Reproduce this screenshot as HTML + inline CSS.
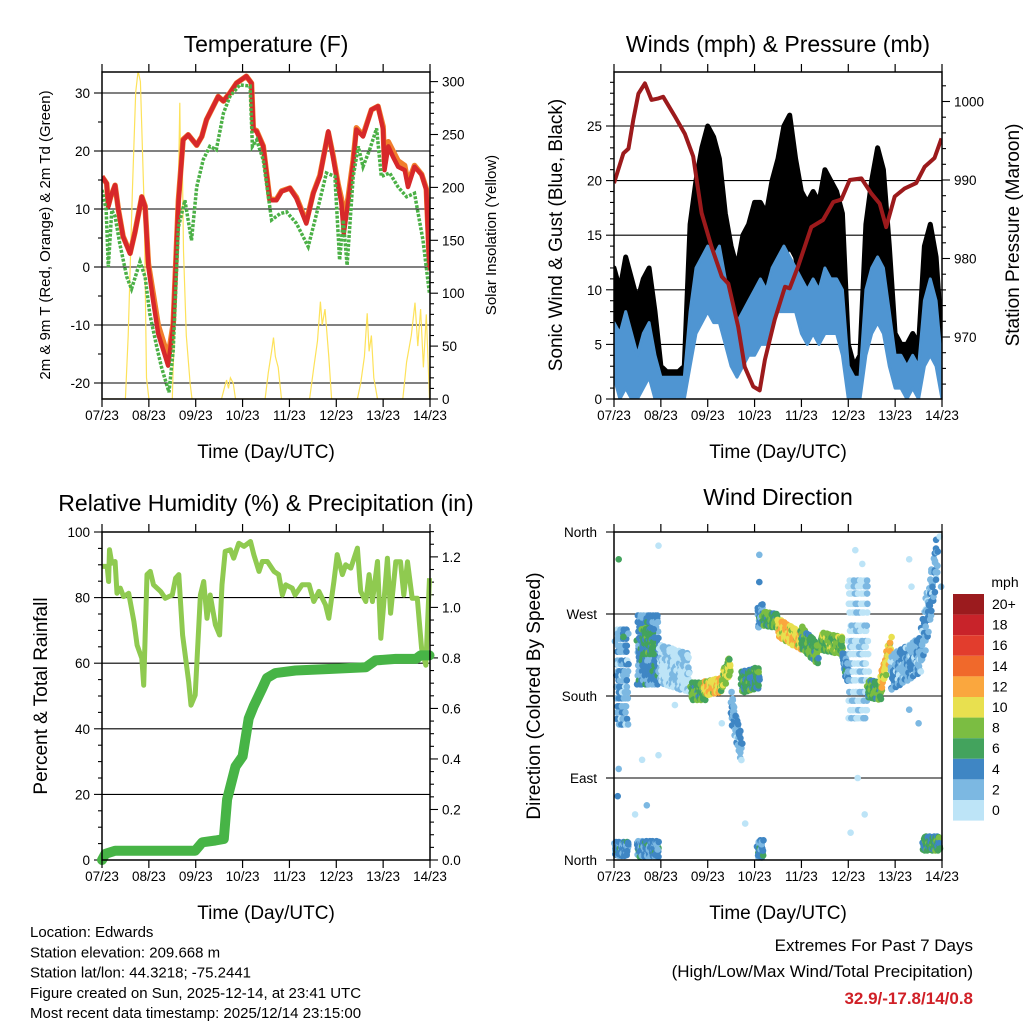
<!DOCTYPE html>
<html><head><meta charset="utf-8"><style>
html,body{margin:0;padding:0;background:#fff;}
svg{display:block;font-family:"Liberation Sans",sans-serif;}
</style></head><body>
<svg id="chart" width="1024" height="1024" viewBox="0 0 1024 1024" xmlns="http://www.w3.org/2000/svg"></svg>
<script>
// ---------- DATA ----------
const dayLabels = ["07/23","08/23","09/23","10/23","11/23","12/23","13/23","14/23"];
const tempT = [0,.10,.135,.185,.28,.35,.45,.60,.70,.85,.92,.99,1.09,1.20,1.41,1.52,1.63,1.73,1.84,2.02,2.13,2.23,2.48,2.59,2.73,2.87,3.08,3.19,3.23,3.30,3.44,3.58,3.72,3.83,4.01,4.15,4.36,4.51,4.65,4.83,4.93,5.04,5.11,5.16,5.25,5.36,5.43,5.57,5.75,5.89,6.00,6.03,6.11,6.21,6.32,6.46,6.53,6.67,6.82,6.92,6.99];
const temp2m = [15.6,14.4,10.4,12.1,14.1,9.8,5.2,2.3,5.8,12.1,10.4,0,-5.8,-11.5,-17,-10.4,11,21.9,22.8,21,22.5,25.4,29.4,28.6,30,31.7,32.9,31.7,23.7,23.4,20.8,11.5,11.5,13,13.6,11.8,7.5,12.7,15.6,23.4,19,13.8,11,5.8,11,17.9,23.7,22.5,27.1,27.7,23.7,16.7,20.8,19,17.3,16.7,13.8,17.3,15.9,13.3,-0.6];
const temp9m = [15.6,14.4,10.6,12.1,14.1,9.9,5.3,2.4,5.9,12.1,10.5,0.6,-4.5,-10,-15.5,-9.8,11.5,22,22.8,21,22.5,25.4,29.4,28.6,30,31.7,32.9,31.7,23.8,23.5,20.9,11.7,11.6,13.1,13.6,12,7.8,12.8,15.8,23.2,19.3,14.2,11.8,8.5,11.8,18.5,24,22.7,27.1,27.7,24.2,18,21.6,20,18.3,17.5,14.5,17.5,16,13.5,0];
const dewT = [0,.09,.135,.21,.28,.38,.53,.63,.81,.92,1.02,1.17,1.27,1.43,1.52,1.63,1.77,1.91,2.02,2.16,2.30,2.44,2.59,2.73,2.94,3.16,3.21,3.30,3.44,3.62,3.80,3.94,4.15,4.40,4.58,4.79,4.97,5.07,5.15,5.23,5.36,5.47,5.57,5.71,5.86,5.96,6.14,6.32,6.50,6.67,6.85,6.99];
const dewPt = [13.3,9.8,0,9.8,8.7,4.0,-1.7,-3.8,0.9,-1.7,-8.1,-13.8,-17.3,-21.6,-14.4,6.9,11.5,4.6,13.8,18.5,20.8,20.2,26.5,29.4,31.4,31.2,20.8,21.9,18.5,8.1,9.2,9.5,7.5,3.5,9.2,16.2,15.6,1.2,8.1,0.3,15.6,20.8,17.3,20.2,23.9,15.6,16.2,13.8,12.1,12.7,4.6,-4.6];
const solarT = [0,.5,.56,.65,.72,.77,.82,.9,.95,1.0,1.5,1.52,1.6,1.66,1.68,1.71,1.74,1.8,1.88,1.92,2.55,2.62,2.66,2.7,2.74,2.8,2.85,3.48,3.55,3.62,3.66,3.7,3.76,3.83,4.43,4.52,4.6,4.66,4.7,4.76,4.84,4.9,5.45,5.52,5.6,5.66,5.7,5.75,5.8,5.88,6.42,6.5,6.6,6.68,6.74,6.8,6.86,6.92,6.99];
const solarW = [0,0,60,200,290,310,300,180,20,0,0,30,120,280,210,240,140,60,15,0,0,12,18,10,20,15,0,0,25,45,58,40,30,0,0,30,55,92,70,85,40,0,0,15,40,81,45,60,20,0,0,35,60,91,50,85,30,80,0];
const windT = [0,.125,.25,.375,.5,.625,.75,.875,1,1.125,1.25,1.375,1.5,1.625,1.75,1.875,2,2.125,2.25,2.375,2.5,2.625,2.75,2.875,3,3.125,3.25,3.375,3.5,3.625,3.75,3.875,4,4.125,4.25,4.375,4.5,4.625,4.75,4.875,5,5.125,5.25,5.375,5.5,5.625,5.75,5.875,6,6.125,6.25,6.375,6.5,6.625,6.75,6.875,7];
const blueLo = [2,0,1,0,0,1,2,0,0,0,0,0,0,3,6,7,8,7,7,5,3,2,3,4,4,5,5,7,8,8,8,8,6,5,6,5,6,6,6,4,0,0,0,4,6,7,6,3,1,1,0,1,0,3,4,3,0];
const blueHi = [7,6,8,6,4,6,7,4,2,2,2,2,2,8,12,13,14,13,14,11,9,7,8,9,10,11,10,12,13,14,13,12,11,10,11,10,12,11,11,10,3,2,2,10,12,13,12,8,4,4,3,4,3,9,11,9,3];
const gustLo = [4,3,5,3,2,4,5,2,1.5,1.5,1.5,1.5,1.5,6,10,12,13,12,11,8,6,4,6,7,8,9,9,11,12,13,14,13,10,9,9,8,10,9,9,7,1,1,1,7,10,12,10,6,3,3,2,3,2,6,7,5,1];
const gustHi = [12,10,13,11,9,11,12,8,3,2.5,2.5,2.5,3,16,20,23,25,24,22,17,14,12,15,16,18,18,17,20,22,25,26,22,19,18,19,18,21,20,19,17,5,3,4,16,20,23,21,14,6,5,5,6,5,14,16,13,5];
const presT = [0,.09,.2,.31,.41,.52,.66,.8,.95,1.05,1.3,1.51,1.69,1.87,2.08,2.30,2.44,2.65,2.79,2.97,3.11,3.22,3.43,3.65,3.75,3.93,4.21,4.46,4.68,4.85,5.03,5.28,5.49,5.67,5.81,5.99,6.2,6.45,6.63,6.84,6.99];
const presMb = [989.6,991.3,993.4,994,997.6,1001,1002.3,1000.2,1000.4,1000.6,998.1,995.9,993,985.8,981.5,977.7,976.8,971.3,966.2,963.7,963.2,967.1,972.2,976.4,976.2,979,984,984.9,987.2,987.5,990,990.2,988.3,987,984,987.9,988.9,989.6,991.7,992.8,995.3];
const rhT = [0,.11,.14,.16,.21,.28,.32,.39,.46,.57,.68,.75,.85,.89,.96,1.03,1.1,1.25,1.35,1.5,1.57,1.64,1.72,1.85,1.9,1.99,2.1,2.17,2.24,2.31,2.42,2.51,2.56,2.63,2.74,2.81,2.92,3.03,3.17,3.24,3.35,3.42,3.53,3.67,3.77,3.85,3.92,4.06,4.12,4.27,4.42,4.52,4.63,4.77,4.84,4.95,5.02,5.13,5.2,5.31,5.45,5.52,5.63,5.7,5.77,5.88,5.95,6.0,6.09,6.16,6.27,6.37,6.44,6.52,6.62,6.73,6.82,6.91,6.99];
const rhPct = [89.5,89.5,84.9,94.6,90.5,91,81.3,82.9,80.3,81.3,72.7,65.5,61.5,53.3,87,88,83.9,81.9,79.8,80.8,85.9,87,68.6,54.3,47.2,50.3,80.8,84.9,73.7,80.8,71.7,68.6,83.9,94.1,94.6,92,96.6,95.6,97.1,93.1,88,91,91,88,87,80.8,83.9,82.9,80.8,83.9,83.9,78.8,81.9,77.8,73.7,84.9,93.1,87,90,89,95.1,81.9,78.8,87,78.8,91,67.6,75.7,92,75.2,90.9,90.9,80.8,90.9,79.8,79.8,64.5,59.4,85.9];
const prT = [0,.07,.28,1.99,2.14,2.42,2.6,2.67,2.85,3.0,3.13,3.24,3.42,3.52,3.7,4.13,4.84,5.63,5.84,6.27,6.7,6.8,6.99];
const prIn = [0,.024,.037,.037,.07,.077,.083,.24,.37,.41,.56,.61,.68,.72,.74,.75,.756,.763,.79,.796,.796,.81,.81];
const dirT0 = [.05,.02,.5,.6,.5,.97,1.65,1.93,2.3,2.5,2.72,3.07,3.07,3.18,3.5,4.0,4.42,4.88,5.0,5.42,5.7,5.91,6.55,6.6];
const dirT1 = [.3,.3,.95,.85,.95,1.6,1.93,2.3,2.48,2.72,3.1,3.18,3.18,3.5,4.0,4.35,4.88,5.0,5.42,5.7,5.91,6.55,6.9,6.95];
const dirA = [200,12,230,240,12,215,185,188,195,170,195,265,12,265,255,245,240,220,230,188,195,205,230,18];
const dirB = [200,12,230,240,12,205,185,192,215,120,200,270,12,262,240,225,235,205,230,185,235,225,330,18];
const dirSpread = [55,8,40,15,9,22,10,8,10,15,12,12,10,8,10,12,10,10,80,10,10,20,25,8];
const dirSpd = [3,4,4,6,4,1,7,11,9,3,6,4,4,7,11,7,8,4,1,7,11,3,3,6];
const outT = [.1,.95,1.6,2.8,3.1,6.35,6.95,.95,5.2,5.3,6.3,.1,.2,.02,3.1,5.35,6.98,.6,1.3,2.3,.08,.45,5.15,5.05,6.3,6.5,.7,2.9];
const outDeg = [330,345,205,40,335,300,355,115,90,325,330,100,245,240,305,50,300,110,170,150,70,50,340,30,165,150,60,200];
const outSpd = [6,1,1,1,3,1,1,1,1,1,1,2,6,3,4,1,2,1,1,1,4,1,1,1,3,3,2,4];
const mphLabels = ["20+","18","16","14","12","10","8","6","4","2","0"];
const mphColors = ["#9b1b1e","#c8232a","#e23d2d","#f0692b","#faa73e","#e8e04f","#7bbd42","#43a35d","#3f86c4","#7cb8e2","#bde4f7"];

// ---------- HELPERS ----------
const NS = "http://www.w3.org/2000/svg";
const svg = document.getElementById('chart');
function mk(tag, attrs, parent){
  const e = document.createElementNS(NS, tag);
  for (const k in attrs) e.setAttribute(k, attrs[k]);
  (parent || svg).appendChild(e);
  return e;
}
function txt(x, y, s, size, anchor, parent, extra){
  const e = mk('text', Object.assign({x:x, y:y, 'font-size':size, 'text-anchor':anchor||'middle', fill:'#000'}, extra||{}), parent);
  e.textContent = s;
  return e;
}
function line(x1,y1,x2,y2,w,col,parent){ return mk('line',{x1:x1,y1:y1,x2:x2,y2:y2,stroke:col||'#000','stroke-width':w||1},parent); }
function makePanel(name, x0, x1, y0, y1){
  const g = mk('g', {});
  
  
  return {g:g, x0:x0, x1:x1, y0:y0, y1:y1, xs: t => x0 + t/7*(x1-x0)};
}
function xAxis(p){
  const ax = mk('g', {}, p.g);
  
  
  dayLabels.forEach((lab, i) => {
    const x = p.xs(i);
    line(x, p.y1, x, p.y1+8, 1.2, '#000', ax);
    line(x, p.y0, x, p.y0-8, 1.2, '#000', ax);
    const t = txt(x, p.y1+21, lab, 13.5, 'middle', ax);
    
    
  });
  const tl = txt((p.x0+p.x1)/2, p.y1+59, 'Time (Day/UTC)', 19, 'middle', ax);
  
  
}
function yAxis(p, side, ys, vmin, vmax, major, minor, fmt, grid){
  const ax = mk('g', {}, p.g);
  
  
  const xe = side === 'left' ? p.x0 : p.x1;
  const dir = side === 'left' ? -1 : 1;
  for (let v = vmin; v <= vmax + 1e-9; v += minor){
    const y = ys(v);
    if (y < p.y0 - 0.5 || y > p.y1 + 0.5) continue;
    const isMaj = Math.abs(Math.round(v/major)*major - v) < 1e-6;
    line(xe, y, xe + dir*(isMaj ? 8 : 4), y, 1.1, '#000', ax);
    if (isMaj){
      if (grid && side === 'left' && y > p.y0 + 1 && y < p.y1 - 1) line(p.x0, y, p.x1, y, 1.1, '#000', ax);
      const t = txt(xe + dir*12, y + 5, fmt(v), 13.5, side === 'left' ? 'end' : 'start', ax);
      
      
    }
  }
}
function frame(p){
  const r = mk('rect', {x:p.x0, y:p.y0, width:p.x1-p.x0, height:p.y1-p.y0, fill:'none', stroke:'#000', 'stroke-width':1.5}, p.g);
  
  
}
function pathFrom(ts, vs, xs, ys){
  return ts.map((t,i) => (i ? 'L' : 'M') + xs(t).toFixed(1) + ',' + ys(vs[i]).toFixed(1)).join(' ');
}
function title(p, s, y){
  const t = txt((p.x0+p.x1)/2, y, s, 23, 'middle', p.g);
  
  
}
function vtitle(x, y, s, size, parent){
  return txt(x, y, s, size, 'middle', parent, {transform:'rotate(-90 '+x+' '+y+')'});
}
function clipFor(p, id){
  const c = mk('clipPath', {id:id});
  mk('rect', {x:p.x0, y:p.y0, width:p.x1-p.x0, height:p.y1-p.y0}, c);
  return 'url(#'+id+')';
}

// ---------- PANEL 1 ----------
{
  const p = makePanel('temperature-panel', 102, 430, 72, 399);
  const yT = v => 267 - v*5.8;
  const yW = v => 399 - v*1.058;
  title(p, 'Temperature (F)', 52);
  yAxis(p, 'left', yT, -25, 35, 10, 5, v => String(v), true);
  yAxis(p, 'right', yW, 0, 310, 50, 10, v => String(v), false);
  const data = mk('g', {'clip-path':clipFor(p, 'c1')}, p.g);
  const s = mk('path', {d:pathFrom(solarT, solarW, p.xs, yW), fill:'none', stroke:'#fde25a', 'stroke-width':1.2}, data);
  
  
  const o = mk('path', {d:pathFrom(tempT, temp9m, p.xs, yT), fill:'none', stroke:'#f17e2c', 'stroke-width':5.5, 'stroke-linejoin':'round'}, data);
  
  
  const r = mk('path', {d:pathFrom(tempT, temp2m, p.xs, yT), fill:'none', stroke:'#d7282a', 'stroke-width':4.5, 'stroke-linejoin':'round'}, data);
  
  
  const d = mk('path', {d:pathFrom(dewT, dewPt, p.xs, yT), fill:'none', stroke:'#4bb046', 'stroke-width':3.5, 'stroke-dasharray':'3 1.5'}, data);
  
  
  frame(p); xAxis(p);
  const l = vtitle(50, 235, '2m & 9m T (Red, Orange) & 2m Td (Green)', 15, p.g);
  
  
  const rr = vtitle(496, 235, 'Solar Insolation (Yellow)', 15, p.g);
  
  
}

// ---------- PANEL 2 ----------
{
  const p = makePanel('winds-panel', 614, 942, 72, 399);
  const yS = v => 399 - v*10.92;
  const yP = v => 180 - (v-990)*7.85;
  title(p, 'Winds (mph) & Pressure (mb)', 52);
  yAxis(p, 'left', yS, 0, 30, 5, 1, v => String(v), true);
  yAxis(p, 'right', yP, 962, 1004, 10, 2, v => String(v), false);
  const data = mk('g', {'clip-path':clipFor(p, 'c2')}, p.g);
  const band = (lo, hi) => {
    let d = windT.map((t,i) => (i ? 'L' : 'M') + p.xs(t).toFixed(1) + ',' + yS(hi[i]).toFixed(1)).join(' ');
    for (let i = windT.length-1; i >= 0; i--) d += ' L' + p.xs(windT[i]).toFixed(1) + ',' + yS(lo[i]).toFixed(1);
    return d + ' Z';
  };
  const gb = mk('path', {d:band(gustLo, gustHi), fill:'#000', stroke:'#000', 'stroke-width':5, 'stroke-linejoin':'round'}, data);
  
  
  const bb = mk('path', {d:band(blueLo, blueHi), fill:'#4f95d2', stroke:'#4f95d2', 'stroke-width':3, 'stroke-linejoin':'round'}, data);
  
  
  const pl = mk('path', {d:pathFrom(presT, presMb, p.xs, yP), fill:'none', stroke:'#9c1a1c', 'stroke-width':4, 'stroke-linejoin':'round'}, data);
  
  
  frame(p); xAxis(p);
  const l = vtitle(562, 235, 'Sonic Wind & Gust (Blue, Black)', 19, p.g);
  
  
  const rr = vtitle(1019, 235, 'Station Pressure (Maroon)', 19, p.g);
  
  
}

// ---------- PANEL 3 ----------
{
  const p = makePanel('humidity-precip-panel', 102, 430, 532, 860);
  const yR = v => 860 - v*3.28;
  const yPr = v => 860 - v*252.6;
  title(p, 'Relative Humidity (%) & Precipitation (in)', 511);
  yAxis(p, 'left', yR, 0, 100, 20, 5, v => String(v), true);
  yAxis(p, 'right', yPr, 0, 1.3, 0.2, 0.05, v => v.toFixed(1), false);
  const data = mk('g', {}, p.g);
  const rh = mk('path', {d:pathFrom(rhT, rhPct, p.xs, yR), fill:'none', stroke:'#8fca50', 'stroke-width':5, 'stroke-linejoin':'round'}, data);
  
  
  const pr = mk('path', {d:pathFrom(prT, prIn, p.xs, yPr), fill:'none', stroke:'#47b446', 'stroke-width':10, 'stroke-linejoin':'round', 'stroke-linecap':'round'}, data);
  
  
  frame(p); xAxis(p);
  const l = vtitle(47, 696, 'Percent & Total Rainfall', 19, p.g);
  
  
}

// ---------- PANEL 4 ----------
{
  const p = makePanel('wind-direction-panel', 614, 942, 532, 860);
  const yD = v => 860 - v/360*328;
  title(p, 'Wind Direction', 505);
  const names = ['North','East','South','West','North'];
  const ax = mk('g', {}, p.g);
  
  
  names.forEach((n, i) => {
    const y = yD(i*90);
    line(p.x0-8, y, p.x0, y, 1.1, '#000', ax);
    if (i > 0 && i < 4) line(p.x0, y, p.x1, y, 1.1, '#000', ax);
    const t = txt(p.x0-17, y+5, n, 13.5, 'end', ax);
    
    
  });
  const colorFor = s => mphColors[10 - Math.max(0, Math.min(10, Math.floor(s/2)))];
  const offs = [-.93,.27,-.41,.78,.05,-.69,.52,-.18,.96,-.57,.34,-.82,.13,.64,-.29,.88,-.05];
  const jit = [-.7,.4,-.1,.9,-.5,.2,.7,-.9,0,.5,-.3];
  const spdJ = [0,1,-1,0,2,-1,1,0,-2,1];
  const pts = mk('g', {}, p.g);
  
  
  let q = 0;
  dirT0.forEach((t0, c) => {
    const t1 = dirT1[c];
    const n = Math.max(3, Math.round((t1 - t0) * 110));
    const per = dirSpread[c] > 30 ? 3 : 2;
    for (let i = 0; i <= n; i++){
      const f = i / n;
      const base = dirA[c] + (dirB[c] - dirA[c]) * f;
      for (let k = 0; k < per; k++){
        q++;
        const t = t0 + (t1 - t0) * f + jit[q % jit.length]*0.02;
        const d = base + dirSpread[c] * offs[q % offs.length];
        const dd = Math.max(0, Math.min(360, d));
        const dot = mk('circle', {cx:p.xs(t).toFixed(1), cy:yD(dd).toFixed(1), r:3.3, fill:colorFor(Math.max(0, dirSpd[c] + spdJ[q % spdJ.length]))}, pts);
        
        
      }
    }
  });
  outT.forEach((t, i) => {
    const dot = mk('circle', {cx:p.xs(t).toFixed(1), cy:yD(outDeg[i]).toFixed(1), r:3.3, fill:colorFor(outSpd[i])}, pts);
    
    
  });
  frame(p); xAxis(p);
  const l = vtitle(540, 696, 'Direction (Colored By Speed)', 19, p.g);
  
  
  const lg = mk('g', {}, p.g);
  
  
  const u = txt(1005, 587, 'mph', 14, 'middle', lg);
  
  
  mphLabels.forEach((lab, i) => {
    const y = 594 + i*20.6;
    const b = mk('rect', {x:953, y:y, width:31, height:20.6, fill:mphColors[i]}, lg);
    
    
    const t = txt(992, y+15, lab, 14, 'start', lg);
    
    
  });
}

// ---------- FOOTER ----------
{
  const g = mk('g', {});
  
  
  const lines = ['Location: Edwards','Station elevation: 209.668 m','Station lat/lon: 44.3218; -75.2441','Figure created on Sun, 2025-12-14, at 23:41 UTC','Most recent data timestamp: 2025/12/14 23:15:00'];
  lines.forEach((s, i) => {
    const t = txt(30, 937 + i*20.3, s, 15, 'start', g);
    
    
  });
  const e = mk('g', {});
  
  
  const a = txt(973, 951, 'Extremes For Past 7 Days', 17, 'end', e);
  
  
  const b = txt(973, 977, '(High/Low/Max Wind/Total Precipitation)', 17, 'end', e);
  
  
  const c = txt(973, 1004, '32.9/-17.8/14/0.8', 17, 'end', e, {fill:'#d02027', 'font-weight':'bold'});
  
  
}
</script>
</body></html>
